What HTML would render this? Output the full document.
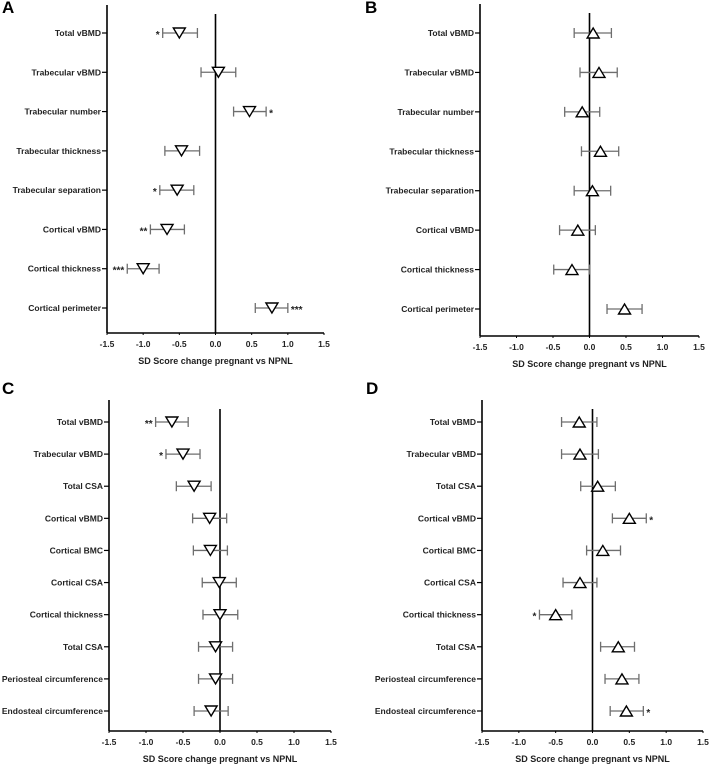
<!DOCTYPE html>
<html><head><meta charset="utf-8"><style>
html,body{margin:0;padding:0;background:#fff;}
svg{display:block;font-family:"Liberation Sans",Arial,sans-serif;}
</style></head><body>
<svg id="fig" width="709" height="766" viewBox="0 0 709 766" xmlns="http://www.w3.org/2000/svg"></svg>
<script>
// Panel A data
const labelsA = ["Total vBMD","Trabecular vBMD","Trabecular number","Trabecular thickness","Trabecular separation","Cortical vBMD","Cortical thickness","Cortical perimeter"];
const meanA = [-0.50,0.04,0.47,-0.47,-0.53,-0.67,-1.00,0.78];
const lowA  = [-0.73,-0.20,0.25,-0.70,-0.77,-0.90,-1.22,0.55];
const highA = [-0.25,0.28,0.70,-0.22,-0.30,-0.43,-0.78,1.00];
const sigA  = ["*","","*","","*","**","***","***"];
const sigSideA = ["L","","R","","L","L","L","R"];
// Panel B data
const labelsB = labelsA;
const meanB = [0.05,0.13,-0.10,0.15,0.04,-0.16,-0.24,0.48];
const lowB  = [-0.21,-0.13,-0.34,-0.11,-0.21,-0.41,-0.49,0.24];
const highB = [0.30,0.38,0.14,0.40,0.29,0.08,0.00,0.72];
const sigB  = ["","","","","","","",""];
const sigSideB = ["","","","","","","",""];
// Panel C data
const labelsC = ["Total vBMD","Trabecular vBMD","Total CSA","Cortical vBMD","Cortical BMC","Cortical CSA","Cortical thickness","Total CSA","Periosteal circumference","Endosteal circumference"];
const meanC = [-0.65,-0.50,-0.35,-0.14,-0.13,-0.01,0.00,-0.06,-0.06,-0.12];
const lowC  = [-0.87,-0.73,-0.59,-0.37,-0.36,-0.24,-0.23,-0.29,-0.29,-0.35];
const highC = [-0.43,-0.27,-0.12,0.09,0.10,0.22,0.24,0.17,0.17,0.11];
const sigC  = ["**","*","","","","","","","",""];
const sigSideC = ["L","L","","","","","","","",""];
// Panel D data
const labelsD = labelsC;
const meanD = [-0.18,-0.17,0.07,0.50,0.14,-0.17,-0.50,0.35,0.40,0.46];
const lowD  = [-0.42,-0.42,-0.16,0.27,-0.08,-0.40,-0.72,0.11,0.17,0.24];
const highD = [0.06,0.08,0.31,0.73,0.38,0.06,-0.28,0.57,0.63,0.69];
const sigD  = ["","","","*","","","*","","","*"];
const sigSideD = ["","","","R","","","L","","","R"];
const xTicks = [-1.5,-1.0,-0.5,0.0,0.5,1.0,1.5];
const xTickLabels = ["-1.5","-1.0","-0.5","0.0","0.5","1.0","1.5"];

const NS="http://www.w3.org/2000/svg";
const svg=document.getElementById('fig');
function mk(tag,attrs,parent){const e=document.createElementNS(NS,tag);for(const k in attrs)e.setAttribute(k,attrs[k]);(parent||svg).appendChild(e);return e;}

function panel(p){
  const g=mk('g',{});
  
  
  const xs=v=>p.x0+(v+1.5)/3*(p.x1-p.x0);
  const n=p.labels.length;
  const ys=i=>p.yFirst+i*(p.yLast-p.yFirst)/(n-1);
  const letter=mk('text',{x:p.letterX,y:p.letterY,'font-size':17,'font-weight':'bold',fill:'#000'},g);
  letter.textContent=p.id;
  
  
  // axes
  const ya=mk('line',{x1:p.x0,y1:p.yTop,x2:p.x0,y2:p.yBot,stroke:'#000','stroke-width':1.6},g);
  
  
  const xa=mk('line',{x1:p.x0,y1:p.yBot,x2:p.x1,y2:p.yBot,stroke:'#000','stroke-width':1.6},g);
  
  
  const zl=mk('line',{x1:xs(0),y1:p.yTop+9,x2:xs(0),y2:p.yBot,stroke:'#000','stroke-width':1.6},g);
  
  
  xTicks.forEach((t,i)=>{
    mk('line',{x1:xs(t),y1:p.yBot,x2:xs(t),y2:p.yBot+2,stroke:'#000','stroke-width':1},g);
    const tl=mk('text',{x:xs(t),y:p.yBot+14,'font-size':8.5,'font-weight':'bold','text-anchor':'middle',fill:'#222'},g);
    tl.textContent=xTickLabels[i];
    
    
  });
  const tt=mk('text',{x:(p.x0+p.x1)/2,y:p.yBot+31,'font-size':9,'font-weight':'bold','text-anchor':'middle',fill:'#222'},g);
  tt.textContent='SD Score change pregnant vs NPNL';
  
  
  for(let i=0;i<n;i++){
    const y=ys(i);
    mk('line',{x1:p.x0-5,y1:y,x2:p.x0,y2:y,stroke:'#000','stroke-width':1.2},g);
    const lb=mk('text',{x:p.x0-6,y:y+3,'font-size':8.5,'font-weight':'bold','text-anchor':'end',fill:'#222'},g);
    lb.textContent=p.labels[i];
    
    
    const lo=xs(p.low[i]),hi=xs(p.high[i]),m=xs(p.mean[i]);
    const eb=mk('g',{stroke:'#6e6e6e','stroke-width':1.3},g);
    
    
    mk('line',{x1:lo,y1:y,x2:hi,y2:y},eb);
    mk('line',{x1:lo,y1:y-5,x2:lo,y2:y+5},eb);
    mk('line',{x1:hi,y1:y-5,x2:hi,y2:y+5},eb);
    const pts=p.down?`${m-6},${y-5} ${m+6},${y-5} ${m},${y+5}`:`${m-6},${y+5} ${m+6},${y+5} ${m},${y-5}`;
    const tri=mk('polygon',{points:pts,fill:'#fff',stroke:'#000','stroke-width':1.4},g);
    
    
    if(p.sig[i]){
      const left=p.side[i]==='L';
      const st=mk('text',{x:left?lo-3:hi+3,y:y+5,'font-size':10,'font-weight':'bold','text-anchor':left?'end':'start',fill:'#222'},g);
      st.textContent=p.sig[i];
      
      
    }
  }
}
panel({id:'A',letterX:2,letterY:13,x0:107,x1:324,yTop:5,yBot:333,yFirst:33,yLast:308,labels:labelsA,mean:meanA,low:lowA,high:highA,sig:sigA,side:sigSideA,down:true});
panel({id:'B',letterX:365,letterY:13,x0:480,x1:699,yTop:4,yBot:336,yFirst:33,yLast:309,labels:labelsB,mean:meanB,low:lowB,high:highB,sig:sigB,side:sigSideB,down:false});
panel({id:'C',letterX:2,letterY:394,x0:109,x1:331,yTop:400,yBot:731,yFirst:422,yLast:711,labels:labelsC,mean:meanC,low:lowC,high:highC,sig:sigC,side:sigSideC,down:true});
panel({id:'D',letterX:366,letterY:394,x0:482,x1:703,yTop:400,yBot:731,yFirst:422,yLast:711,labels:labelsD,mean:meanD,low:lowD,high:highD,sig:sigD,side:sigSideD,down:false});
</script>
</body></html>
